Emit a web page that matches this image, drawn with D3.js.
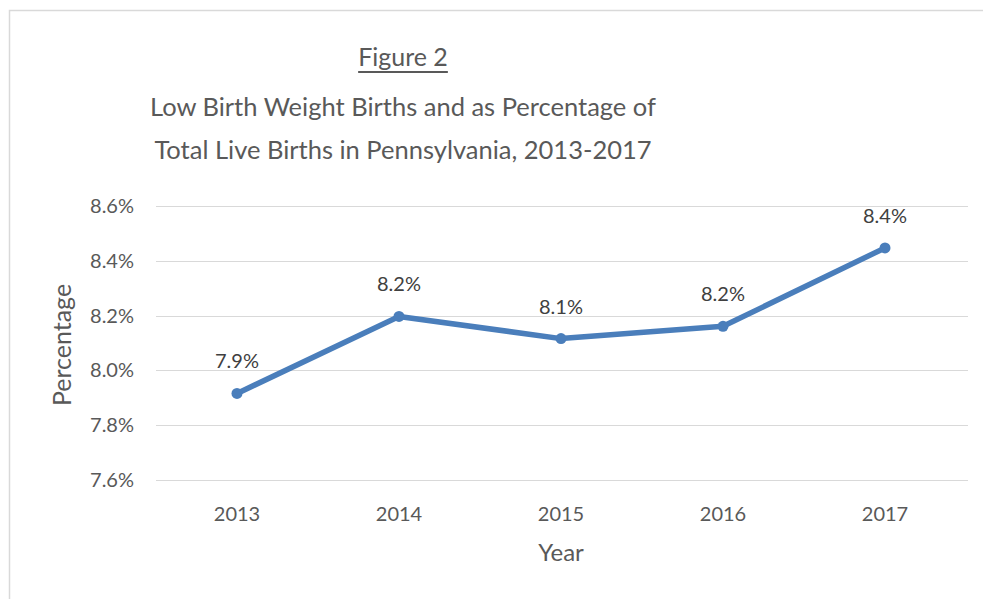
<!DOCTYPE html>
<html><head><meta charset="utf-8">
<script src="https://cdn.jsdelivr.net/npm/d3@7/dist/d3.min.js"></script>
<style>html,body{margin:0;padding:0;background:#fff;}svg{display:block;}</style>
</head><body>
<script>
const years = ["2013","2014","2015","2016","2017"];
const values = [7.916, 8.197, 8.116, 8.161, 8.447];
const yTicks = [7.6, 7.8, 8.0, 8.2, 8.4, 8.6];
const titleLines = ["Low Birth Weight Births and as Percentage of", "Total Live Births in Pennsylvania, 2013-2017"];
const figureLabel = "Figure 2";

const W = 983, H = 599;
const font = "Lato, 'Open Sans', sans-serif";
const svg = d3.select("body").append("svg").attr("width", W).attr("height", H);

// chart border
svg.append("path").attr("d", `M9.5,${H+5} V10.5 H${W+5}`).attr("fill","none").attr("stroke","#d9d9d9").attr("stroke-width",1.5);

const plot = {left:156, right:966, top:206, bottom:480};
const x = d3.scaleBand().domain(years).range([plot.left, plot.right]);
const y = d3.scaleLinear().domain([7.6, 8.6]).range([plot.bottom, plot.top]);

// gridlines
svg.append("g").selectAll("line").data(yTicks).join("line")
  .attr("x1", plot.left).attr("x2", plot.right+2)
  .attr("y1", d=>Math.round(y(d))+0.5).attr("y2", d=>Math.round(y(d))+0.5)
  .attr("stroke","#d9d9d9").attr("stroke-width",1.2);

// y axis labels
const yAxis = d3.axisLeft(y).tickValues(yTicks).tickSize(0).tickPadding(22).tickFormat(d=>d.toFixed(1)+"%");
const gy = svg.append("g").attr("transform",`translate(${plot.left},0)`).call(yAxis);
gy.select(".domain").remove();
gy.selectAll("text").attr("font-family",font).attr("font-size",20).attr("fill","#595959");

// x axis labels
const xAxis = d3.axisBottom(x).tickSize(0).tickPadding(27);
const gx = svg.append("g").attr("transform",`translate(0,${plot.bottom})`).call(xAxis);
gx.select(".domain").remove();
gx.selectAll("text").attr("font-family",font).attr("font-size",20).attr("fill","#595959");

// axis titles
svg.append("text").attr("x", 561).attr("y", 561).attr("text-anchor","middle")
  .attr("font-family",font).attr("font-size",24).attr("fill","#595959").text("Year");
svg.append("text").attr("transform","translate(71,345) rotate(-90)").attr("text-anchor","middle")
  .attr("font-family",font).attr("font-size",25).attr("fill","#595959").text("Percentage");

// line
const cx = d => x(d) + x.bandwidth()/2;
const line = d3.line().x((d,i)=>cx(years[i])).y(d=>y(d));
svg.append("path").datum(values).attr("d", line).attr("fill","none")
  .attr("stroke","#4a7ebb").attr("stroke-width",5.5).attr("stroke-linejoin","round");
svg.append("g").selectAll("circle").data(values).join("circle")
  .attr("cx",(d,i)=>cx(years[i])).attr("cy",d=>y(d)).attr("r",5.5).attr("fill","#4a7ebb");

// data labels
svg.append("g").selectAll("text").data(values).join("text")
  .attr("x",(d,i)=>cx(years[i])).attr("y",d=>y(d)-25).attr("text-anchor","middle")
  .attr("font-family",font).attr("font-size",20).attr("fill","#404040")
  .text(d=>d.toFixed(1)+"%");

// titles
const tcx = 403;
const fig = svg.append("text").attr("x",tcx).attr("y",66).attr("text-anchor","middle")
  .attr("font-family",font).attr("font-size",25).attr("fill","#595959").text(figureLabel);
const fw = fig.node().getComputedTextLength();
svg.append("line").attr("x1",tcx-fw/2).attr("x2",tcx+fw/2).attr("y1",72).attr("y2",72)
  .attr("stroke","#595959").attr("stroke-width",1.8);
svg.append("g").selectAll("text").data(titleLines).join("text")
  .attr("x",tcx).attr("y",(d,i)=>116+i*43).attr("text-anchor","middle")
  .attr("font-family",font).attr("font-size",25.5).attr("fill","#595959").text(d=>d);
</script>
</body></html>
